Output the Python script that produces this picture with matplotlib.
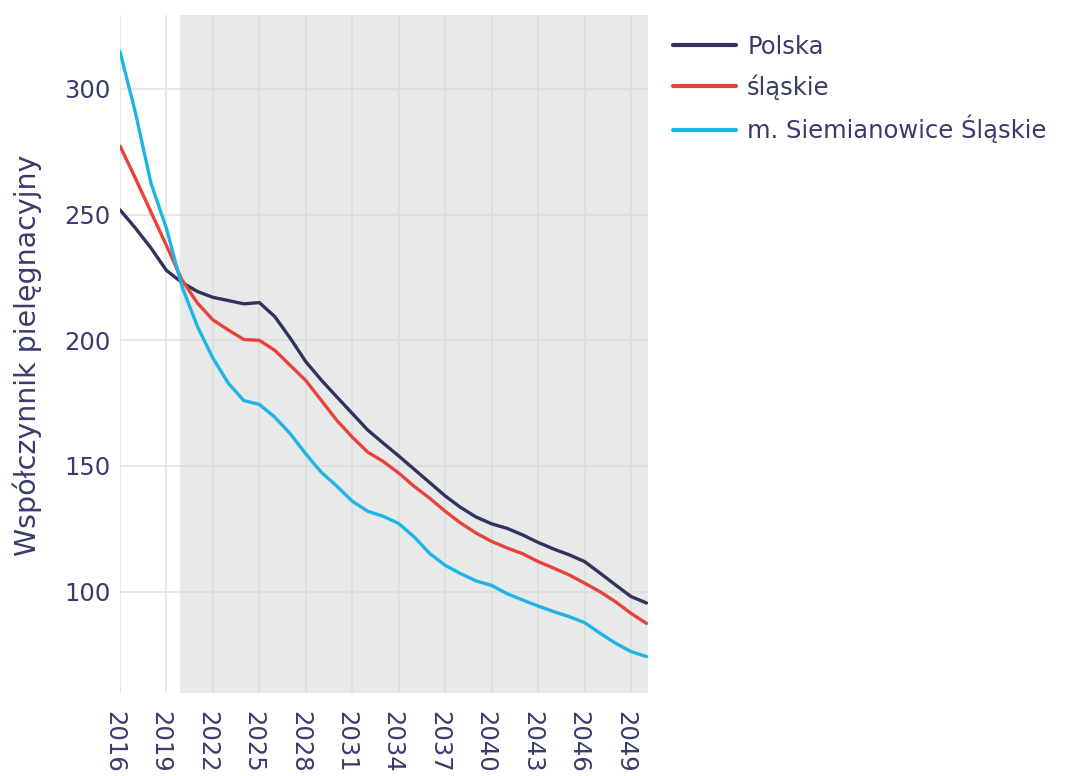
import matplotlib
matplotlib.use("Agg")
import matplotlib.pyplot as plt
import matplotlib.transforms as mtransforms

years = list(range(2016, 2051))

polska = [251.9, 244.6, 236.7, 227.8, 223.0, 219.4, 217.1, 215.8, 214.5, 215.0,
          209.4, 200.8, 191.5, 184.2, 177.5, 170.9, 164.3, 159.1, 154.0, 148.7,
          143.4, 138.1, 133.5, 129.7, 127.0, 125.2, 122.6, 119.6, 117.0, 114.7,
          112.0, 107.4, 102.7, 98.1, 95.5]

slaskie = [277.3, 264.4, 251.0, 237.7, 224.0, 214.8, 208.1, 204.1, 200.3, 200.0,
           196.0, 190.0, 184.0, 176.1, 168.2, 161.5, 155.5, 151.8, 147.2, 141.9,
           137.2, 132.0, 127.3, 123.3, 120.0, 117.4, 115.1, 112.0, 109.4, 106.7,
           103.4, 100.0, 96.0, 91.4, 87.4]

siemianowice = [314.8, 290.5, 262.5, 244.5, 221.4, 205.5, 192.9, 182.9, 176.0, 174.5,
                169.4, 162.8, 154.8, 147.5, 142.0, 136.0, 132.0, 130.0, 127.1, 121.8,
                115.2, 110.5, 107.2, 104.3, 102.5, 99.2, 96.7, 94.3, 92.1, 90.1,
                87.7, 83.5, 79.5, 76.2, 74.2]

series_names = ["Polska", "śląskie", "m. Siemianowice Śląskie"]
series_colors = ["#32325f", "#e8423c", "#1eb4e6"]
x_ticks = list(range(2016, 2051, 3))
y_ticks = [100, 150, 200, 250, 300]
forecast_start = 2019.86

text_color = "#3a3a6c"
plt.rcParams['font.family'] = ['DejaVu Sans']

fig = plt.figure(figsize=(10.8, 7.76), dpi=100)
ax = fig.add_axes([120/1080, (776-693)/776, (648-120)/1080, (693-15)/776])

ax.set_xlim(2016, 2050.1)
ax.set_ylim(59.7, 329.4)

# grid
ax.set_xticks(x_ticks)
ax.set_yticks(y_ticks)
ax.grid(True, color="#e6e6e6", linewidth=1.3, zorder=0)
ax.set_axisbelow(True)

# shaded forecast region
ax.axvspan(forecast_start, 2050.1, color="#d3d7d7", alpha=0.5, lw=0, zorder=1)

for vals, name, col in zip([polska, slaskie, siemianowice], series_names, series_colors):
    ax.plot(years, vals, color=col, linewidth=2.4, label=name, zorder=3,
            solid_joinstyle='round', solid_capstyle='round')

for s in ax.spines.values():
    s.set_visible(False)
ax.tick_params(axis='both', length=0, colors=text_color, labelsize=17.5)
ax.tick_params(axis='y', pad=7)
ax.tick_params(axis='x', pad=13)
for lbl in ax.get_xticklabels():
    lbl.set_rotation(270)
    lbl.set_va('top')
    lbl.set_ha('center')
    offset = mtransforms.ScaledTranslation(-6/100, 0, fig.dpi_scale_trans)
    lbl.set_transform(lbl.get_transform() + offset)

fig.text(27/1080, 1 - 355/776, "Współczynnik pielęgnacyjny", rotation=90,
         ha='center', va='center', color=text_color, fontsize=20.5)

leg = ax.legend(loc='upper left', bbox_to_anchor=(673/1080, 1 - 35/776),
                bbox_transform=fig.transFigure, frameon=False, fontsize=17.5,
                handlelength=2.6, handletextpad=0.45, labelspacing=0.62,
                borderaxespad=0, borderpad=0)
for t in leg.get_texts():
    t.set_color(text_color)
for h in leg.get_lines():
    h.set_linewidth(3)

fig.savefig("out.png", dpi=100, facecolor="white")
